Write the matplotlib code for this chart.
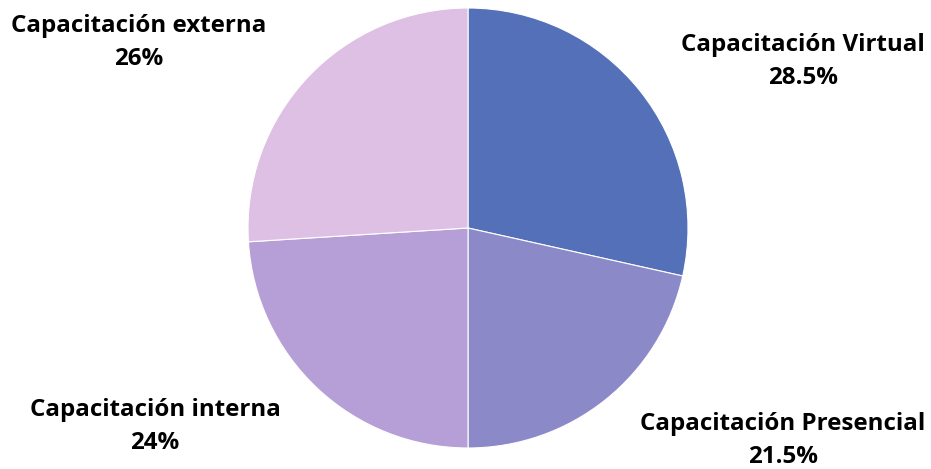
import matplotlib
matplotlib.use("Agg")
from matplotlib import pyplot as plt

categorias = ["Capacitación Virtual", "Capacitación Presencial", "Capacitación interna", "Capacitación externa"]
valores = [28.5, 21.5, 24, 26]
etiquetas_pct = ["28.5%", "21.5%", "24%", "26%"]
colores = ["#5470B8", "#8B89C7", "#B69FD6", "#DDC0E4"]
# label centers in data units (radius = 1)
pos_etiquetas = [(1.523, 0.759), (1.432, -0.968), (-1.423, -0.90), (-1.495, 0.841)]

plt.rcParams['font.family'] = ['Open Sans', 'DejaVu Sans']

fig = plt.figure(figsize=(9.31, 4.69), dpi=100)
cx, cy, r = 468, 469 - 228, 220
ax = fig.add_axes([(cx - r) / 931, (cy - r) / 469, 2 * r / 931, 2 * r / 469])

ax.pie(valores, colors=colores, startangle=90, counterclock=False, radius=1,
       wedgeprops=dict(edgecolor="white", linewidth=0.8))
ax.set_xlim(-1, 1)
ax.set_ylim(-1, 1)
ax.set_aspect("equal")
ax.axis("off")

for cat, pct, (x, y) in zip(categorias, etiquetas_pct, pos_etiquetas):
    ax.text(x, y, cat + "\n" + pct, ha="center", va="center", fontsize=17.4,
            fontweight="bold", color="black", linespacing=1.5, clip_on=False)

fig.savefig("out.png", dpi=100)
